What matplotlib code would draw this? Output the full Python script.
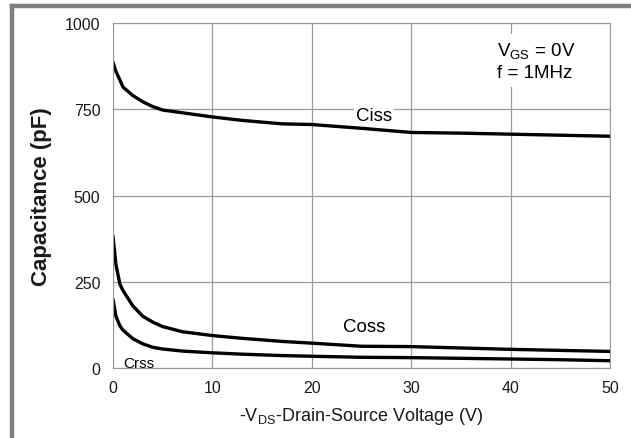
import numpy as np
import matplotlib.pyplot as plt
from matplotlib.lines import Line2D

plt.rcParams['font.family'] = ['Liberation Sans', 'DejaVu Sans']

# %% data
vds = [0, 0.3, 0.7, 1, 2, 3, 4, 5, 7, 10, 13, 17, 20, 25, 30, 35, 40, 45, 50]
ciss = [887, 860, 835, 815, 790, 772, 758, 748, 740, 728, 718, 708, 706, 695, 683, 681, 678, 675, 672]
coss = [383, 300, 243, 225, 180, 150, 133, 120, 105, 94, 86, 77, 72, 63, 62, 58, 54, 51, 48]
crss = [200, 150, 122, 110, 85, 70, 60, 55, 49, 44, 40, 36, 34, 31, 30, 28, 26, 24, 21]

yticks = [0, 250, 500, 750, 1000]
xticks = [0, 10, 20, 30, 40, 50]

fig = plt.figure(figsize=(6.31, 4.39), dpi=100)
ax = fig.add_axes([0.179, 0.1595, 0.788, 0.7855])

for c in (ciss, coss, crss):
    ax.plot(vds, c, color='black', lw=2.4, solid_capstyle='round')

ax.set_xlim(0, 50)
ax.set_ylim(0, 1000)
ax.set_xticks(xticks)
ax.set_yticks(yticks)
ax.grid(True, color='#9a9a9a', lw=0.9)
ax.set_axisbelow(True)
for s in ax.spines.values():
    s.set_color('#9a9a9a')
ax.tick_params(length=0, labelsize=11.5, colors='#1a1a1a', pad=9)

ax.set_ylabel('Capacitance (pF)', fontsize=16, fontweight='bold', color='#1a1a1a', labelpad=9)
ax.set_xlabel(r'-V$_{\mathregular{DS}}$-Drain-Source Voltage (V)', fontsize=13, color='#1a1a1a', labelpad=7)

box = dict(facecolor='white', edgecolor='none', pad=1.5)
ax.text(24.4, 719, 'Ciss', fontsize=13.5, bbox=box)
ax.text(23.1, 107, 'Coss', fontsize=13.5)
ax.text(1.0, 4, 'Crss', fontsize=11)
ax.text(38.6, 843, 'V$_{\\mathregular{GS}}$ = 0V\nf = 1MHz', fontsize=13.5,
        linespacing=1.25, bbox=dict(facecolor='white', edgecolor='none', pad=4))

# gray frame around the picture
fig.add_artist(Line2D([12 / 631, 12 / 631], [0, 1 - 7 / 439], transform=fig.transFigure,
                      color='#808080', lw=3.2))
fig.add_artist(Line2D([12 / 631, 1], [1 - 7 / 439, 1 - 7 / 439], transform=fig.transFigure,
                      color='#808080', lw=3.2))

fig.savefig('out.png', dpi=100)
